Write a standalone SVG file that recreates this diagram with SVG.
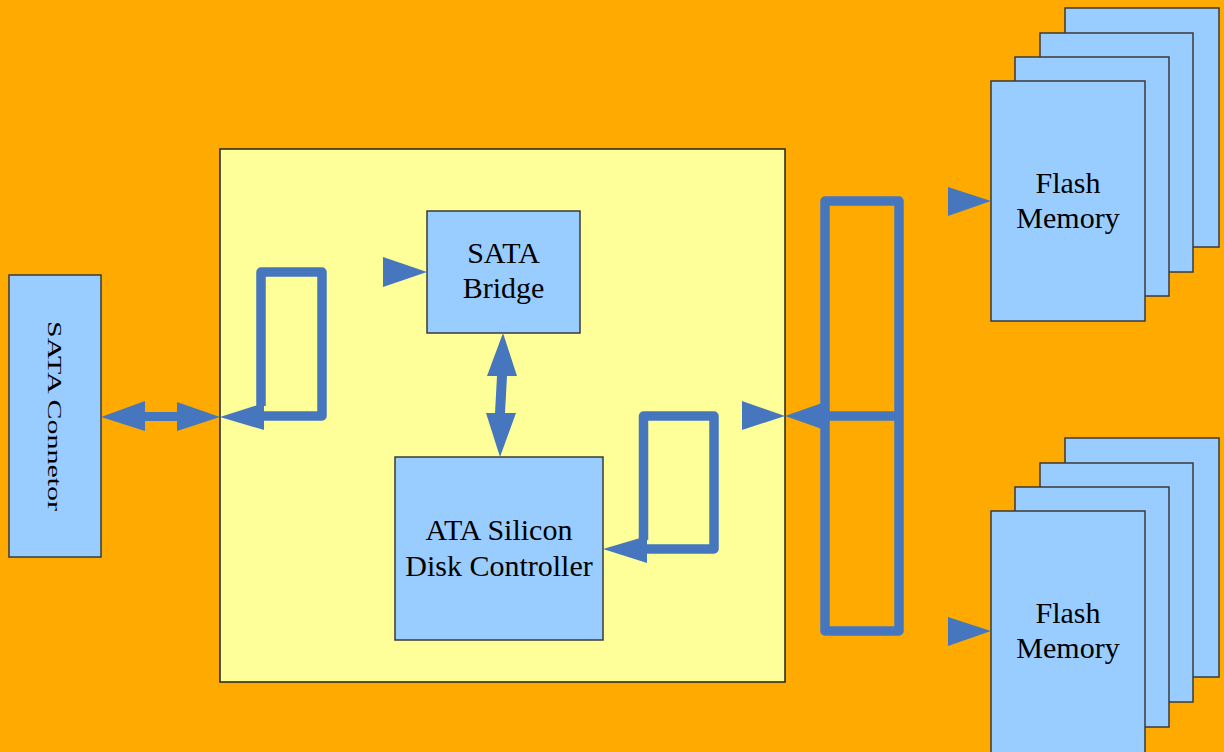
<svg xmlns="http://www.w3.org/2000/svg" width="1224" height="752" viewBox="0 0 1224 752">
  <style>
    .box { fill: #99CCFF; stroke: #3a3a3a; stroke-width: 1.5; }
    .board { fill: #FFFF99; stroke: #222; stroke-width: 1.5; }
    .lbl { font-family: "Liberation Serif", "Times New Roman", serif; font-size: 30px; fill: #000; text-anchor: middle; }
    .bus { fill: none; stroke: #4677BE; stroke-width: 9.5; stroke-linejoin: round; }
    .head { fill: #4677BE; }
  </style>

  <!-- background -->
  <rect x="0" y="0" width="1224" height="752" fill="#FFAA00"/>

  <!-- main board -->
  <g id="board">
    <rect class="board" x="220" y="149" width="565" height="533"/>
  </g>

  <!-- SATA connector (vertical label) -->
  <g id="sata-connector">
    <rect class="box" x="9" y="275" width="92" height="282"/>
    <text class="lbl" transform="translate(48,416) rotate(90) scale(1,0.66)" x="0" y="0">SATA Connetor</text>
  </g>

  <!-- SATA bridge -->
  <g id="sata-bridge">
    <rect class="box" x="427" y="211" width="153" height="122"/>
    <text class="lbl" x="503.5" y="263">SATA</text>
    <text class="lbl" x="503.5" y="298">Bridge</text>
  </g>

  <!-- ATA silicon disk controller -->
  <g id="disk-controller">
    <rect class="box" x="395" y="457" width="208" height="183"/>
    <text class="lbl" x="499" y="540">ATA Silicon</text>
    <text class="lbl" x="499" y="576">Disk Controller</text>
  </g>

  <!-- flash memory stack, upper -->
  <g id="flash-upper">
    <rect class="box" x="1065" y="8" width="154" height="239"/>
    <rect class="box" x="1040" y="33" width="153" height="239"/>
    <rect class="box" x="1015" y="57" width="154" height="239"/>
    <rect class="box" x="991" y="81" width="154" height="240"/>
    <text class="lbl" x="1068" y="193">Flash</text>
    <text class="lbl" x="1068" y="228">Memory</text>
  </g>

  <!-- flash memory stack, lower -->
  <g id="flash-lower">
    <rect class="box" x="1065" y="438" width="154" height="239"/>
    <rect class="box" x="1040" y="463" width="153" height="239"/>
    <rect class="box" x="1015" y="487" width="154" height="240"/>
    <rect class="box" x="991" y="511" width="154" height="242"/>
    <text class="lbl" x="1068" y="623">Flash</text>
    <text class="lbl" x="1068" y="658">Memory</text>
  </g>

  <!-- connectors -->
  <g id="connectors">
    <!-- SATA connector <-> board -->
    <rect class="head" x="144" y="412" width="34" height="9"/>
    <polygon class="head" points="101,417 145,401 145,431"/>
    <polygon class="head" points="220,417 177,402 177,431"/>

    <!-- input loop on the board -->
    <path class="bus" d="M261,406 V272 H322 V416 H262"/>
    <polygon class="head" points="220,417 264,403 264,430"/>

    <!-- feed into SATA bridge -->
    <polygon class="head" points="427,272 383,257 383,287"/>

    <!-- bridge <-> controller -->
    <polygon class="head" points="497,376 507,376 505,413 495,413"/>
    <polygon class="head" points="503,333 487,376 517,376"/>
    <polygon class="head" points="500,457 486,413 516,413"/>

    <!-- return loop into controller -->
    <path class="bus" d="M643.5,540 V416 H714 V549 H646"/>
    <polygon class="head" points="603,549 647,536 647,563"/>

    <!-- board output -->
    <polygon class="head" points="785,416 742,401 742,430"/>

    <!-- flash bus -->
    <path class="bus" d="M825,201 H899 V631 H825 Z"/>
    <path class="bus" d="M822,416 H899"/>
    <polygon class="head" points="785,416 822,403 822,429"/>

    <!-- feeds into flash stacks -->
    <polygon class="head" points="991,201 948,187 948,216"/>
    <polygon class="head" points="991,631 948,617 948,646"/>
  </g>
</svg>
